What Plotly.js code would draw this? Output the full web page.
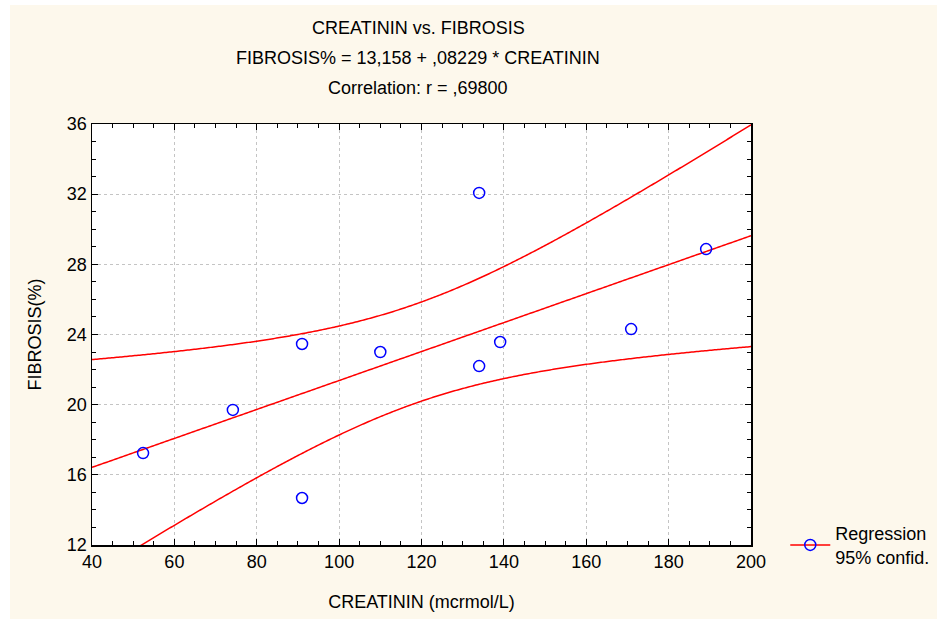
<!DOCTYPE html>
<html><head><meta charset="utf-8">
<script src="https://cdn.plot.ly/plotly-3.0.1.min.js"></script>
<style>
html,body{margin:0;padding:0;background:#ffffff;overflow:hidden;width:937px;height:619px;}
#chart{position:absolute;left:10px;top:5px;width:927px;height:614px;}
</style>
</head><body>
<div id="chart"></div>
<script>
// Data
const creatinin = [52.4, 74.2, 91.0, 91.0, 110.0, 134.0, 134.0, 139.1, 170.9, 189.1];
const fibrosis  = [17.24, 19.70, 14.68, 23.46, 23.00, 32.07, 22.20, 23.57, 24.31, 28.87];
const xRange = [40, 200];
const yRange = [12, 36];
const titleLines = ["CREATININ vs. FIBROSIS", "FIBROSIS% = 13,158 + ,08229 * CREATININ", "Correlation: r = ,69800"];
const legendLabel = "Regression<br>95% confid.";

// Least-squares fit and 95% confidence band computed from the data
const n = creatinin.length;
const mx = creatinin.reduce((a,b)=>a+b,0)/n;
const my = fibrosis.reduce((a,b)=>a+b,0)/n;
let sxx=0, sxy=0;
for(let i=0;i<n;i++){ sxx+=(creatinin[i]-mx)**2; sxy+=(creatinin[i]-mx)*(fibrosis[i]-my); }
const b1 = sxy/sxx, b0 = my - b1*mx;
let sse=0;
for(let i=0;i<n;i++){ sse += (fibrosis[i]-(b0+b1*creatinin[i]))**2; }
const s = Math.sqrt(sse/(n-2));
const tcrit = 2.306; // t(0.975, 8)
const gx=[], gy=[], gu=[], gl=[];
for(let k=0;k<=400;k++){
  const x = xRange[0] + (xRange[1]-xRange[0])*k/400;
  const yh = b0 + b1*x;
  const h = tcrit*s*Math.sqrt(1/n + (x-mx)**2/sxx);
  gx.push(x); gy.push(yh); gu.push(yh+h); gl.push(yh-h);
}
const red = '#ff0000';
const lineStyle = {color:red, width:1.5, simplify:false};
const mk = {symbol:'circle-open', size:11, color:'#0000ff', line:{width:1.5, color:'#0000ff'}};
const traces = [
  {x:gx, y:gu, mode:'lines', line:lineStyle, showlegend:false, hoverinfo:'skip'},
  {x:gx, y:gl, mode:'lines', line:lineStyle, showlegend:false, hoverinfo:'skip'},
  {x:gx, y:gy, mode:'lines', line:lineStyle, showlegend:false, hoverinfo:'skip'},
  {x:creatinin, y:fibrosis, mode:'markers', showlegend:false, marker:mk},
  {x:[null], y:[null], mode:'lines+markers', name:legendLabel, line:{color:red, width:1.5}, marker:mk}
];
const FF = 'Liberation Sans, Arial, sans-serif';
const font = {family:FF, size:18, color:'#000000'};
const axisCommon = {
  showline:true, linecolor:'#000000', linewidth:1.5, mirror:'ticks',
  ticks:'inside', ticklen:6, tickwidth:1, tickcolor:'#000000',
  showgrid:true, gridcolor:'#c4c4c4', griddash:'dot', gridwidth:1,
  zeroline:false, tickfont:{family:FF, size:18, color:'#000000'}
};
const annotations = titleLines.map((t,i)=>({
  text:t, xref:'paper', yref:'paper', x:0.495, y:1, yshift:[96,66,36][i],
  xanchor:'center', yanchor:'middle', showarrow:false,
  font:{family:FF, size:18, color:'#000000'}
}));
const layout = {
  width:927, height:614,
  paper_bgcolor:'#fdf8ec', plot_bgcolor:'#ffffff',
  margin:{l:82, r:186, t:119, b:74, autoexpand:false},
  font:font,
  showlegend:true,
  legend:{x:1.052, y:0.0, xanchor:'left', yanchor:'middle', bgcolor:'rgba(0,0,0,0)',
          font:{family:FF, size:18, color:'#000000'}, itemwidth:40},
  xaxis:Object.assign({}, axisCommon, {range:xRange, dtick:20, tick0:40, automargin:false,
    minor:{dtick:5, ticks:'inside', ticklen:4, tickcolor:'#000000', showgrid:false},
    title:{text:'CREATININ (mcrmol/L)', standoff:24, font:{family:FF, size:18}}}),
  yaxis:Object.assign({}, axisCommon, {range:yRange, dtick:4, tick0:12, automargin:false,
    minor:{dtick:1, ticks:'inside', ticklen:4, tickcolor:'#000000', showgrid:false},
    title:{text:'FIBROSIS(%)', standoff:20, font:{family:FF, size:18}}}),
  annotations:annotations
};
Plotly.newPlot('chart', traces, layout, {displayModeBar:false, staticPlot:true});
</script>
</body></html>
